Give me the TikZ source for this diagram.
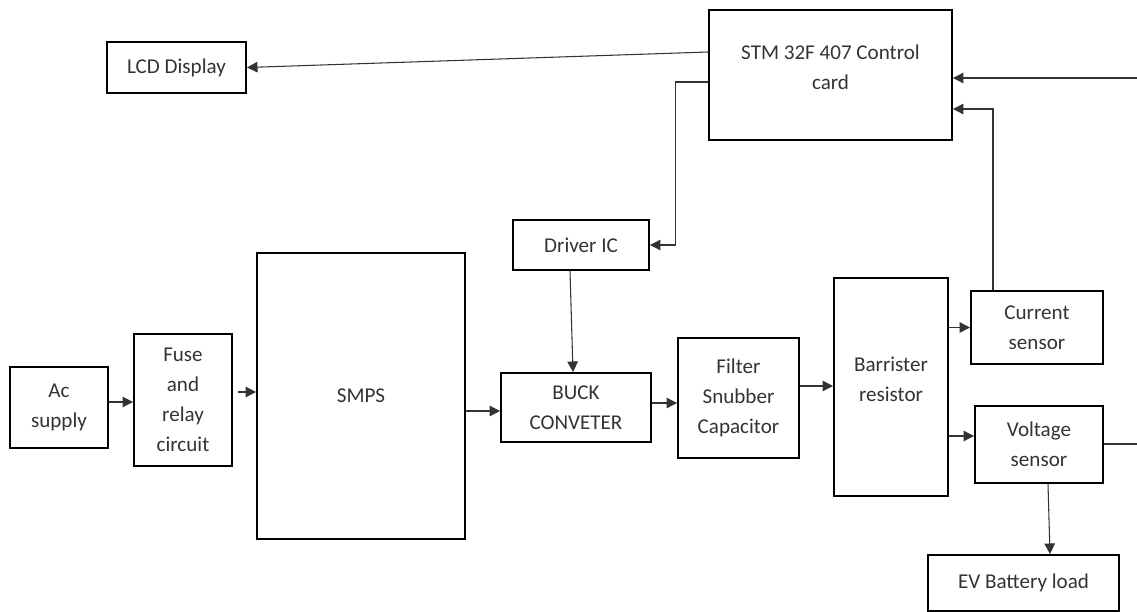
\documentclass[tikz,border=0pt]{standalone}
\usepackage{fontspec}
\setmainfont{Carlito}
\usetikzlibrary{arrows.meta,positioning,calc}
\definecolor{txt}{HTML}{333333}
\begin{document}
\begin{tikzpicture}[x=0.02cm,y=-0.02cm,>={Triangle[length=6pt,width=6pt]},
 blk/.style={draw,line width=1.1pt,align=center,text=txt,inner sep=1pt,font=\fontsize{12}{17}\selectfont},
 lnk/.style={->,line width=.6pt,draw=black!80}]
\useasboundingbox (0,0) rectangle (1137,612);
% top row
\node[blk,minimum width=2.78cm,minimum height=1.02cm] (lcd) at (176.5,67.5){LCD Display};
\node[blk,minimum width=4.86cm,minimum height=2.6cm] (stm) at (830.5,75){STM 32F 407 Control\\card\\[-8pt]};
\node[blk,minimum width=2.72cm,minimum height=1cm] (drv) at (581,245){Driver IC};
% power path
\node[blk,minimum width=1.96cm,minimum height=1.62cm] (ac) at (59,407.5){Ac\\supply};
\node[blk,minimum width=1.96cm,minimum height=2.64cm] (fuse) at (183,400){Fuse\\and\\relay\\circuit};
\node[blk,minimum width=4.16cm,minimum height=5.72cm] (smps) at (361,396){SMPS};
\node[blk,minimum width=3cm,minimum height=1.38cm] (buck) at (576,407.5){BUCK\\CONVETER};
\node[blk,minimum width=2.42cm,minimum height=2.4cm] (flt) at (738.5,398){Filter\\Snubber\\Capacitor};
\node[blk,minimum width=2.28cm,minimum height=4.36cm] (bar) at (891,387){Barrister\\resistor\\[-8pt]};
\node[blk,minimum width=2.64cm,minimum height=1.46cm] (cur) at (1037,327.5){Current\\sensor};
\node[blk,minimum width=2.56cm,minimum height=1.54cm] (vol) at (1039,444.5){Voltage\\sensor};
\node[blk,minimum width=3.82cm,minimum height=1.12cm] (ev) at (1023.5,583){EV Battery load};
\coordinate (in1) at (1137,78);\coordinate (out1) at (1137,444);
% connectors
\draw[lnk] ([yshift=.46cm]stm.west)--(lcd.east);
\draw[lnk] ([yshift=-.14cm]stm.west)--++(-33,0)|-(drv.east);
\draw[lnk] (in1)--(in1-|stm.east);
\draw[lnk] ([xshift=-.88cm]cur.north)|-([yshift=-.68cm]stm.east);
\draw[lnk] ([xshift=-.22cm]drv.south)--([xshift=-.06cm]buck.north);
\draw[lnk] ([yshift=.11cm]ac.east)--([yshift=.11cm]ac.east-|fuse.west);
\draw[lnk] ([xshift=3pt,yshift=.16cm]fuse.east)--([yshift=.16cm]fuse.east-|smps.west);
\draw[lnk] ([yshift=-.3cm]smps.east)--([yshift=-.3cm]smps.east-|buck.west);
\draw[lnk] ([yshift=.09cm]buck.east)--([yshift=.09cm]buck.east-|flt.west);
\draw[lnk] ([yshift=.24cm]flt.east)--([yshift=.24cm]flt.east-|bar.west);
\draw[lnk] (cur.west-|bar.east)--(cur.west);
\draw[lnk] ([yshift=.17cm]vol.west-|bar.east)--([yshift=.17cm]vol.west);
\draw[line width=.6pt,draw=black!80] (vol.east|-out1)--(out1);
\draw[lnk] ([xshift=.18cm]vol.south)--([xshift=.53cm]ev.north);
\end{tikzpicture}
\end{document}
